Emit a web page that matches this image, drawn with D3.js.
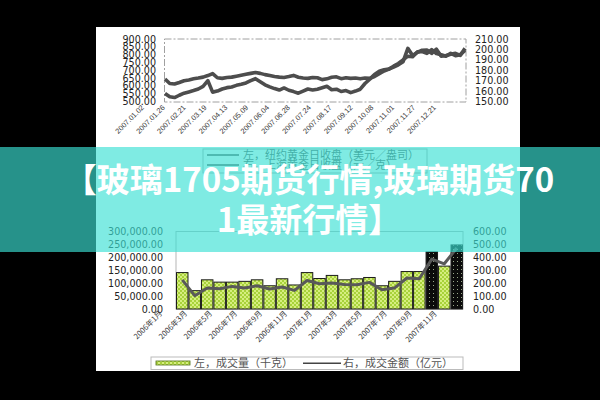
<!DOCTYPE html>
<html><head><meta charset="utf-8">
<script src="https://cdn.jsdelivr.net/npm/d3@7"></script>
<style>html,body{margin:0;padding:0;background:#000;overflow:hidden}</style>
</head><body><div id="c"></div>
<script>
// ---------- data ----------
const goldDates = ["2007.01.02","2007.01.26","2007.02.21","2007.03.19","2007.04.13","2007.05.09","2007.06.04","2007.06.28","2007.07.24","2007.08.17","2007.09.12","2007.10.08","2007.11.01","2007.11.27","2007.12.21"];
const nyGold = [644,615,612,622,633,638,645,650,656,666,679,652,648,654,656,662,668,674,680,686,680,672,666,660,656,654,660,667,655,650,648,654,652,640,645,655,658,646,652,648,650,645,650,648,660,678,695,707,720,735,755,840,795,815,828,830,808,835,790,795,802,808,795,840];
const shGold = [157.6,154.5,153.8,156,158,159.2,160.5,162,164.5,170,159,160,162,163.3,164,165.5,166.5,167.8,170,171.9,169,166,164,162.4,161,163,160.8,159.5,158,160,162,161,161.8,163.2,164.6,161.3,161.8,159.6,160.5,158.5,160,161.8,167.3,171.5,176,179,180.5,181.1,183.9,186.5,190,193.5,193,197.6,198,196.2,199.8,196,194.9,193.5,196.2,194,195,199];
const goldLeftTicks = [500,550,600,650,700,750,800,850,900];
const goldRightTicks = [150,160,170,180,190,200,210];
const goldLegend = ["左，纽约黄金日收盘（美元／盎司）","右，上海黄金日收盘（元／克）"];

const months = ["2006年1月","2006年2月","2006年3月","2006年4月","2006年5月","2006年6月","2006年7月","2006年8月","2006年9月","2006年10月","2006年11月","2006年12月","2007年1月","2007年2月","2007年3月","2007年4月","2007年5月","2007年6月","2007年7月","2007年8月","2007年9月","2007年10月","2007年11月"];
const monthLabels = ["2006年1月","2006年3月","2006年5月","2006年7月","2006年9月","2006年11月","2007年1月","2007年3月","2007年5月","2007年7月","2007年9月","2007年11月"];
const volume = [141000,71000,113000,104000,104000,107000,113000,90000,117000,93000,141000,118000,130000,113000,117000,122000,90000,107000,145000,145000,221000,166000,248000];
const turnover = [226,103,162,157,175,162,180,155,170,144,221,196,201,190,188,206,149,162,240,234,386,350,472];
const volLeftTicks = [0,50000,100000,150000,200000,250000,300000];
const volRightTicks = [0,100,200,300,400,500,600];
const volLegend = ["左，成交量（千克）","右，成交金额（亿元）"];

const titleLines = ["【玻璃1705期货行情,玻璃期货70","1最新行情】"];

// ---------- drawing ----------
const W = 600, H = 400;
const svg = d3.select("#c").append("svg").attr("width", W).attr("height", H);
const defs = svg.append("defs");
const pg = defs.append("pattern").attr("id","pg").attr("width",4).attr("height",4).attr("patternUnits","userSpaceOnUse");
pg.append("rect").attr("width",4).attr("height",4).attr("fill","#a8d23a");
pg.append("rect").attr("width",2).attr("height",2).attr("fill","#d6ee80");
pg.append("rect").attr("x",2).attr("y",2).attr("width",2).attr("height",2).attr("fill","#d6ee80");
const pk = defs.append("pattern").attr("id","pk").attr("width",4).attr("height",4).attr("patternUnits","userSpaceOnUse");
pk.append("rect").attr("width",4).attr("height",4).attr("fill","#0b0b0b");
pk.append("rect").attr("x",1).attr("y",1).attr("width",1).attr("height",1).attr("fill","#9aa88a");

svg.append("rect").attr("width", W).attr("height", H).attr("fill", "#000");
svg.append("rect").attr("x", 96).attr("y", 27).attr("width", 424).attr("height", 344).attr("fill", "#fff");

const tickFont = "'DejaVu Sans', sans-serif";

// ----- top chart -----
const xT = d3.scaleLinear().domain([0, nyGold.length - 1]).range([165, 465]);
const yL = d3.scaleLinear().domain([500, 900]).range([101.5, 39]);
const yR = d3.scaleLinear().domain([150, 210]).range([101.5, 39]);

svg.append("rect").attr("x", 164.5).attr("y", 39).attr("width", 301.5).attr("height", 63)
  .attr("fill", "none").attr("stroke", "#a0a0a0").attr("stroke-width", 1).attr("stroke-dasharray", "7,2,2,2");

const axL = svg.append("g").attr("transform", "translate(156,0)")
  .call(d3.axisLeft(yL).tickValues(goldLeftTicks).tickFormat(d3.format(".2f")).tickSize(0).tickPadding(0));
const axR = svg.append("g").attr("transform", "translate(475,0)")
  .call(d3.axisRight(yR).tickValues(goldRightTicks).tickFormat(d3.format(".2f")).tickSize(0).tickPadding(0));
[axL, axR].forEach(a => {
  a.select(".domain").remove();
  a.selectAll("text").attr("font-family", tickFont).attr("font-size", 9.6).attr("fill", "#222");
});

const xDates = d3.scalePoint().domain(goldDates).range([144, 436]);
const axD = svg.append("g").attr("transform", "translate(0,108)")
  .call(d3.axisBottom(xDates).tickSize(0).tickPadding(0));
axD.select(".domain").remove();
axD.selectAll("text").attr("y", 0).attr("dy", 0).attr("x", 0)
  .attr("transform", "rotate(-45)").attr("text-anchor", "end")
  .attr("font-family", "'Liberation Sans', sans-serif").attr("font-size", 7.4).attr("fill", "#333");

const lineNY = d3.line().x((d, i) => xT(i)).y(d => yL(d));
const lineSH = d3.line().x((d, i) => xT(i)).y(d => yR(d));
svg.append("path").datum(shGold).attr("d", lineSH).attr("fill", "none")
  .attr("stroke", "#4d4d4d").attr("stroke-width", 3.6).attr("stroke-linejoin", "round");
svg.append("path").datum(nyGold).attr("d", lineNY).attr("fill", "none")
  .attr("stroke", "#4d4d4d").attr("stroke-width", 3.6).attr("stroke-linejoin", "round");

// top legend
const lgT = svg.append("g");
lgT.append("rect").attr("x", 203).attr("y", 149).attr("width", 224).attr("height", 24)
  .attr("fill", "#fff").attr("stroke", "#aaa");
goldLegend.forEach((t, i) => {
  const y = 155 + i * 10;
  lgT.append("line").attr("x1", 207).attr("x2", 239).attr("y1", y).attr("y2", y)
    .attr("stroke", "#444").attr("stroke-width", 1.5);
  lgT.append("text").attr("x", 243).attr("y", y + 4).text(t)
    .attr("font-family", "'Noto Sans CJK SC', sans-serif").attr("font-size", 11).attr("fill", "#555");
});

// ----- bottom chart -----
const xB = d3.scaleBand().domain(months).range([176, 463]).padding(0);
const yV = d3.scaleLinear().domain([0, 300000]).range([309, 231.5]);
const yM = d3.scaleLinear().domain([0, 600]).range([309, 231.5]);

svg.append("rect").attr("x", 176).attr("y", 231.5).attr("width", 287).attr("height", 77.5)
  .attr("fill", "none").attr("stroke", "#b5b5b5").attr("stroke-width", 1);

const darkMonths = new Set(["2007年9月", "2007年11月"]);
svg.append("g").selectAll("rect").data(volume).join("rect")
  .attr("x", (d, i) => xB(months[i]) + 0.5)
  .attr("y", d => yV(d))
  .attr("width", xB.bandwidth() - 1)
  .attr("height", d => yV(0) - yV(d))
  .attr("fill", (d, i) => darkMonths.has(months[i]) ? "url(#pk)" : "url(#pg)")
  .attr("stroke", "#1c1c1c").attr("stroke-width", 1);

const lineT = d3.line().x((d, i) => xB(months[i]) + xB.bandwidth() / 2).y(d => yM(d));
svg.append("path").datum(turnover).attr("d", lineT).attr("fill", "none")
  .attr("stroke", "#595959").attr("stroke-width", 3).attr("stroke-linejoin", "round");

const axVL = svg.append("g").attr("transform", "translate(163,0)")
  .call(d3.axisLeft(yV).tickValues(volLeftTicks).tickFormat(d3.format(",.2f")).tickSize(0).tickPadding(0));
const axVR = svg.append("g").attr("transform", "translate(473,0)")
  .call(d3.axisRight(yM).tickValues(volRightTicks).tickFormat(d3.format(".2f")).tickSize(0).tickPadding(0));
[axVL, axVR].forEach(a => {
  a.select(".domain").remove();
  a.selectAll("text").attr("font-family", tickFont).attr("font-size", 9.6).attr("fill", "#222");
});

const xM = d3.scalePoint().domain(monthLabels).range([xB(months[0]) + xB.bandwidth() / 2 - 20, xB(months[22]) + xB.bandwidth() / 2 - 20]);
const axM = svg.append("g").attr("transform", "translate(0,314)")
  .call(d3.axisBottom(xM).tickSize(0).tickPadding(0));
axM.select(".domain").remove();
axM.selectAll("text").attr("y", 0).attr("dy", 0).attr("x", 0)
  .attr("transform", "rotate(-45)").attr("text-anchor", "end")
  .attr("font-family", "'Noto Sans CJK SC', sans-serif").attr("font-size", 7.6).attr("fill", "#333");

// bottom legend
const lgB = svg.append("g");
lgB.append("rect").attr("x", 151).attr("y", 357).attr("width", 312).attr("height", 12.5)
  .attr("fill", "#fff").attr("stroke", "#bbb");
lgB.append("rect").attr("x", 156).attr("y", 361).attr("width", 34).attr("height", 4)
  .attr("fill", "url(#pg)").attr("stroke", "#4d6b12").attr("stroke-width", 0.8);
lgB.append("text").attr("x", 194).attr("y", 367.3).text(volLegend[0])
  .attr("font-family", "'Noto Sans CJK SC', sans-serif").attr("font-size", 11).attr("fill", "#555");
lgB.append("line").attr("x1", 303).attr("x2", 341).attr("y1", 363.2).attr("y2", 363.2)
  .attr("stroke", "#444").attr("stroke-width", 1.5);
lgB.append("text").attr("x", 343).attr("y", 367.3).text(volLegend[1])
  .attr("font-family", "'Noto Sans CJK SC', sans-serif").attr("font-size", 11).attr("fill", "#555");

// ----- banner -----
svg.append("rect").attr("x", 0).attr("y", 147).attr("width", W).attr("height", 105)
  .attr("fill", "rgb(58,225,212)").attr("fill-opacity", 0.65);
svg.append("g").selectAll("text").data(titleLines).join("text")
  .attr("x", 309).attr("y", (d, i) => 192 + i * 40)
  .attr("text-anchor", "middle")
  .attr("font-family", "'Noto Sans CJK SC', sans-serif").attr("font-weight", 700)
  .attr("font-size", 33).attr("fill", "#fff")
  .text(d => d);
</script>
</body></html>
